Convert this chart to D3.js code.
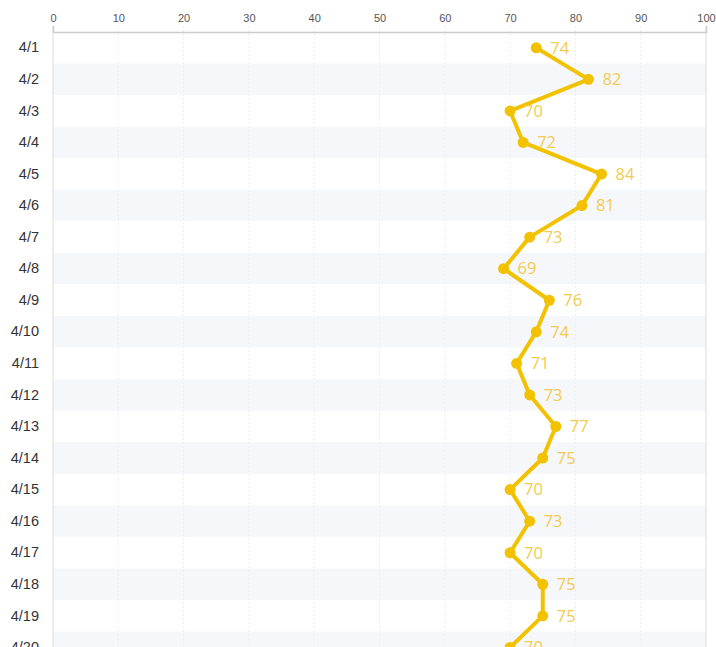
<!DOCTYPE html>
<html>
<head>
<meta charset="utf-8">
<script src="https://cdn.jsdelivr.net/npm/d3@7"></script>
<style>
  html, body { margin: 0; padding: 0; background: #fff; overflow: hidden; }
  svg { display: block; font-family: "Open Sans", "Noto Sans", sans-serif; }
</style>
</head>
<body>
<svg id="chart" width="716" height="647"></svg>
<script>
// Daily values for April
const days = ["4/1","4/2","4/3","4/4","4/5","4/6","4/7","4/8","4/9","4/10",
              "4/11","4/12","4/13","4/14","4/15","4/16","4/17","4/18","4/19","4/20"];
const values = [74, 82, 70, 72, 84, 81, 73, 69, 76, 74,
                71, 73, 77, 75, 70, 73, 70, 75, 75, 70];
const xTicks = [0, 10, 20, 30, 40, 50, 60, 70, 80, 90, 100];

const margin = { top: 32, left: 53, right: 10 };
const width = 716;
const rowH = 31.56;
const plotH = rowH * days.length;

const svg = d3.select("#chart");

const x = d3.scaleLinear().domain([0, 100]).range([margin.left, width - margin.right]);
const y = d3.scaleBand().domain(days).range([margin.top, margin.top + plotH]);

// alternating row bands
svg.append("g").selectAll("rect")
  .data(days)
  .join("rect")
  .attr("x", x(0))
  .attr("y", d => y(d))
  .attr("width", x(100) - x(0))
  .attr("height", y.bandwidth())
  .attr("fill", (d, i) => i % 2 ? "#f5f7fa" : "#ffffff");

// vertical grid lines
svg.append("g").selectAll("line")
  .data(xTicks.slice(1, -1))
  .join("line")
  .attr("x1", d => x(d)).attr("x2", d => x(d))
  .attr("y1", margin.top - 6).attr("y2", margin.top + plotH)
  .attr("stroke", "#eceef1")
  .attr("stroke-dasharray", "2,2");

// frame lines left and right
svg.append("g").selectAll("line")
  .data([0, 100])
  .join("line")
  .attr("x1", d => x(d)).attr("x2", d => x(d))
  .attr("y1", margin.top - 6).attr("y2", margin.top + plotH)
  .attr("stroke", "#dcdcdc");

// top axis
const xAxis = svg.append("g")
  .attr("transform", `translate(0,${margin.top})`)
  .call(d3.axisTop(x).tickValues(xTicks).tickSize(6).tickPadding(4));
xAxis.select(".domain").attr("stroke", "#cccccc").attr("stroke-width", 1.5);
xAxis.selectAll(".tick line").attr("stroke", "none");
xAxis.selectAll(".tick text").attr("fill", "#555").attr("font-size", 11);

// category axis
const yAxis = svg.append("g")
  .attr("transform", `translate(${margin.left},0)`)
  .call(d3.axisLeft(y).tickSize(0).tickPadding(14));
yAxis.select(".domain").remove();
yAxis.selectAll(".tick text").attr("fill", "#333").attr("font-size", 14.5);

const gold = "#f2c200";

// value line
const line = d3.line()
  .x(d => x(d))
  .y((d, i) => y(days[i]) + y.bandwidth() / 2);

svg.append("path")
  .datum(values)
  .attr("d", line)
  .attr("fill", "none")
  .attr("stroke", gold)
  .attr("stroke-width", 4)
  .attr("stroke-linejoin", "round");

// points
svg.append("g").selectAll("circle")
  .data(values)
  .join("circle")
  .attr("cx", d => x(d))
  .attr("cy", (d, i) => y(days[i]) + y.bandwidth() / 2)
  .attr("r", 5.5)
  .attr("fill", gold);

// value labels
svg.append("g").selectAll("text")
  .data(values)
  .join("text")
  .attr("x", d => x(d) + 14)
  .attr("y", (d, i) => y(days[i]) + y.bandwidth() / 2)
  .attr("dy", "0.35em")
  .attr("fill", "#f3cb4f")
  .attr("font-size", 16.5)
  .text(d => d);
</script>
</body>
</html>
